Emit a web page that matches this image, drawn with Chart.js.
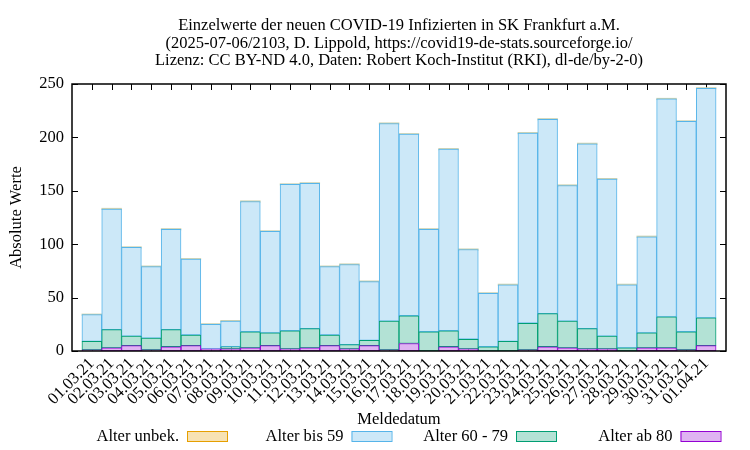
<!DOCTYPE html>
<html>
<head>
<meta charset="utf-8">
<script src="https://cdn.jsdelivr.net/npm/chart.js@4/dist/chart.umd.min.js"></script>
<style>
  html, body { margin: 0; padding: 0; background: #fff; }
  #wrap { width: 750px; height: 450px; }
</style>
</head>
<body>
<div id="wrap"><canvas id="c" width="750" height="450"></canvas></div>
<script>
const dates = ["01.03.21","02.03.21","03.03.21","04.03.21","05.03.21","06.03.21","07.03.21","08.03.21","09.03.21","10.03.21","11.03.21","12.03.21","13.03.21","14.03.21","15.03.21","16.03.21","17.03.21","18.03.21","19.03.21","20.03.21","21.03.21","22.03.21","23.03.21","24.03.21","25.03.21","26.03.21","27.03.21","28.03.21","29.03.21","30.03.21","31.03.21","01.04.21"];
const alterAb80   = [1,3,5,1,4,5,2,2,3,5,2,3,5,2,5,1,7,0,4,2,0,0,1,4,3,2,2,0,3,3,1,5];
const alter60bis79 = [8,17,9,11,16,10,0,2,15,12,17,18,10,4,5,27,26,18,15,9,4,9,25,31,25,19,12,3,14,29,17,26];
const alterBis59  = [25,113,83,67,94,71,23,24,122,95,137,136,64,75,55,185,170,96,170,84,50,53,178,182,127,173,147,59,90,204,197,215];
const alterUnbek  = [0,0,0,0,0,0,0,0,0,0,0,0,0,0,0,0,0,0,0,0,0,0,0,0,0,0,0,0,0,0,0,0];
const yTicks = [0,50,100,150,200,250];
const titleLines = [
  "Einzelwerte der neuen COVID-19 Infizierten in SK Frankfurt a.M.",
  "(2025-07-06/2103, D. Lippold, https://covid19-de-stats.sourceforge.io/",
  "Lizenz: CC BY-ND 4.0, Daten: Robert Koch-Institut (RKI), dl-de/by-2-0)"
];
const seriesNames = ["Alter unbek.", "Alter bis 59", "Alter 60 - 79", "Alter ab 80"];
const seriesLine = ["#e69f00", "#56b4e9", "#009e73", "#9400d3"];
const seriesFill = ["#f7e2b3", "#cce8f8", "#b3e2d5", "#dfb3f2"];

const FONT = "'Liberation Serif', 'DejaVu Serif', serif";
const FS = 16.5;
const toXY = arr => arr.map((v, i) => ({x: i, y: v}));

const deco = {
  id: 'deco',
  beforeDatasetsDraw(chart) {
    const {ctx, chartArea: a, scales: {x, y}} = chart;
    ctx.save();
    ctx.strokeStyle = '#000';
    ctx.lineWidth = 1;
    ctx.beginPath();
    dates.forEach((d, i) => {
      const px = Math.round(x.getPixelForValue(i)) + 0.5;
      ctx.moveTo(px, a.bottom); ctx.lineTo(px, a.bottom - 6);
      ctx.moveTo(px, a.top); ctx.lineTo(px, a.top + 6);
    });
    yTicks.forEach(v => {
      const py = Math.round(y.getPixelForValue(v)) + 0.5;
      ctx.moveTo(a.left, py); ctx.lineTo(a.left + 6, py);
      ctx.moveTo(a.right, py); ctx.lineTo(a.right - 6, py);
    });
    ctx.stroke();
    ctx.restore();
  },
  afterDatasetsDraw(chart) {
    const {ctx, chartArea: a} = chart;
    ctx.save();
    ctx.strokeStyle = '#000';
    ctx.lineWidth = 1.5;
    ctx.strokeRect(a.left, a.top, a.right - a.left, a.bottom - a.top);
    ctx.restore();
  },
  afterDraw(chart) {
    const {ctx, chartArea: a} = chart;
    ctx.save();
    ctx.fillStyle = '#000';
    ctx.font = FS + "px " + FONT;
    ctx.textAlign = 'center';
    ctx.textBaseline = 'middle';
    const cx = (a.left + a.right) / 2;
    titleLines.forEach((t, i) => ctx.fillText(t, cx, 26 + i * 17.5));
    // legend
    ctx.textAlign = 'right';
    seriesNames.forEach((n, i) => {
      const bx = 187 + i * 164.5;
      ctx.fillStyle = '#000';
      ctx.fillText(n, bx - 8, 437);
      ctx.fillStyle = seriesFill[i];
      ctx.fillRect(bx, 431, 40, 10);
      ctx.strokeStyle = seriesLine[i];
      ctx.lineWidth = 1;
      ctx.strokeRect(bx + 0.5, 431.5, 40, 10);
    });
    ctx.restore();
  }
};

const mk = (label, data, idx) => ({
  label, data: toXY(data),
  backgroundColor: seriesFill[idx], borderColor: seriesLine[idx],
  borderWidth: 1, borderSkipped: false,
  categoryPercentage: 1.0, barPercentage: 1.0
});

const unbekSet = mk(seriesNames[0], alterUnbek, 0);
unbekSet.minBarLength = 1.5;
unbekSet.borderWidth = 0;
unbekSet.backgroundColor = '#cdd2b0';

new Chart(document.getElementById('c'), {
  type: 'bar',
  data: {
    datasets: [
      mk(seriesNames[3], alterAb80, 3),
      mk(seriesNames[2], alter60bis79, 2),
      mk(seriesNames[1], alterBis59, 1),
      unbekSet
    ]
  },
  options: {
    responsive: false, animation: false, devicePixelRatio: 1,
    layout: {padding: {top: 84, right: 24, left: 0, bottom: 0}},
    plugins: {legend: {display: false}, title: {display: false}, tooltip: {enabled: false}},
    scales: {
      x: {
        type: 'linear', stacked: true, min: -1, max: 32, offset: false,
        afterBuildTicks: s => { s.ticks = dates.map((d, i) => ({value: i})); },
        afterFit: s => { s.height = 99; },
        grid: {display: false, drawTicks: false}, border: {display: false},
        ticks: {autoSkip: false, minRotation: 45, maxRotation: 45, padding: 3, color: '#000',
          font: {family: FONT, size: FS}, callback: v => dates[v] ?? ''},
        title: {display: true, text: 'Meldedatum', color: '#000', font: {family: FONT, size: FS},
          padding: {top: 0, bottom: 20}}
      },
      y: {
        stacked: true, min: 0, max: 250,
        afterFit: s => { s.width = 72; },
        grid: {display: false, drawTicks: false}, border: {display: false},
        ticks: {stepSize: 50, padding: 8, color: '#000', font: {family: FONT, size: FS}},
        title: {display: true, text: 'Absolute Werte', color: '#000', font: {family: FONT, size: FS},
          padding: {top: 7, bottom: 0}}
      }
    }
  },
  plugins: [deco]
});
</script>
</body>
</html>
